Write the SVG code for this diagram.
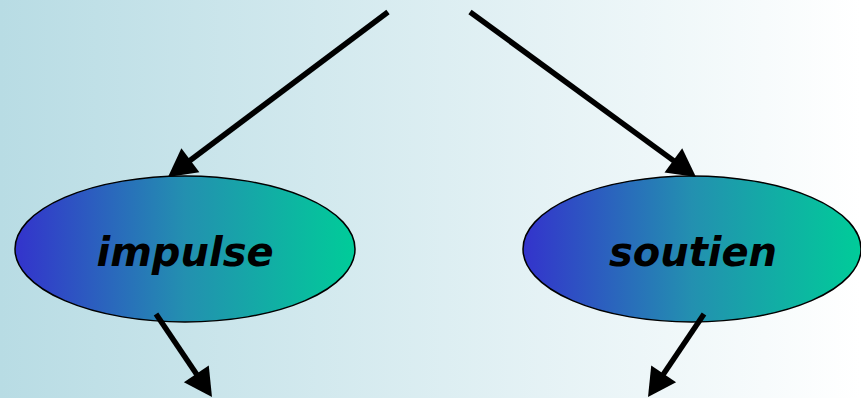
<svg xmlns="http://www.w3.org/2000/svg" width="861" height="398" viewBox="0 0 861 398">
<defs>
<linearGradient id="bg" x1="0" y1="0" x2="1" y2="0">
<stop offset="0" stop-color="#b8dce4"/>
<stop offset="1" stop-color="#ffffff"/>
</linearGradient>
<linearGradient id="nodeFill" x1="0" y1="0" x2="1" y2="0">
<stop offset="0" stop-color="#3333cc"/>
<stop offset="0.5" stop-color="#2390b0"/>
<stop offset="1" stop-color="#00cc99"/>
</linearGradient>
<marker id="arrow" markerUnits="userSpaceOnUse" markerWidth="28" markerHeight="30" refX="18" refY="15" orient="auto" overflow="visible">
<path d="M0,0 L28,15 L0,30 Z" fill="#000"/>
</marker>
<style>
.node ellipse{fill:url(#nodeFill);stroke:#000;stroke-width:1.5}
.node text{font-family:"DejaVu Sans",Verdana,sans-serif;font-weight:bold;font-style:italic;font-size:40px;fill:#000;text-anchor:middle}
.conn line{stroke:#000;stroke-width:5.5;marker-end:url(#arrow)}
</style>
</defs>
<rect x="0" y="0" width="861" height="398" fill="url(#bg)"/>
<g id="impulse" class="node">
<ellipse cx="185" cy="249" rx="170" ry="73"/>
<text x="185" y="266">impulse</text>
</g>
<g id="soutien" class="node">
<ellipse cx="692" cy="249" rx="169" ry="73"/>
<text x="693" y="266">soutien</text>
</g>
<g id="connectors" class="conn">
<line x1="388" y1="12" x2="176" y2="171"/>
<line x1="470" y1="12" x2="687.9" y2="171.1"/>
<line x1="156" y1="314" x2="206.4" y2="388.7"/>
<line x1="704" y1="314" x2="653.6" y2="388.7"/>
</g>
</svg>
